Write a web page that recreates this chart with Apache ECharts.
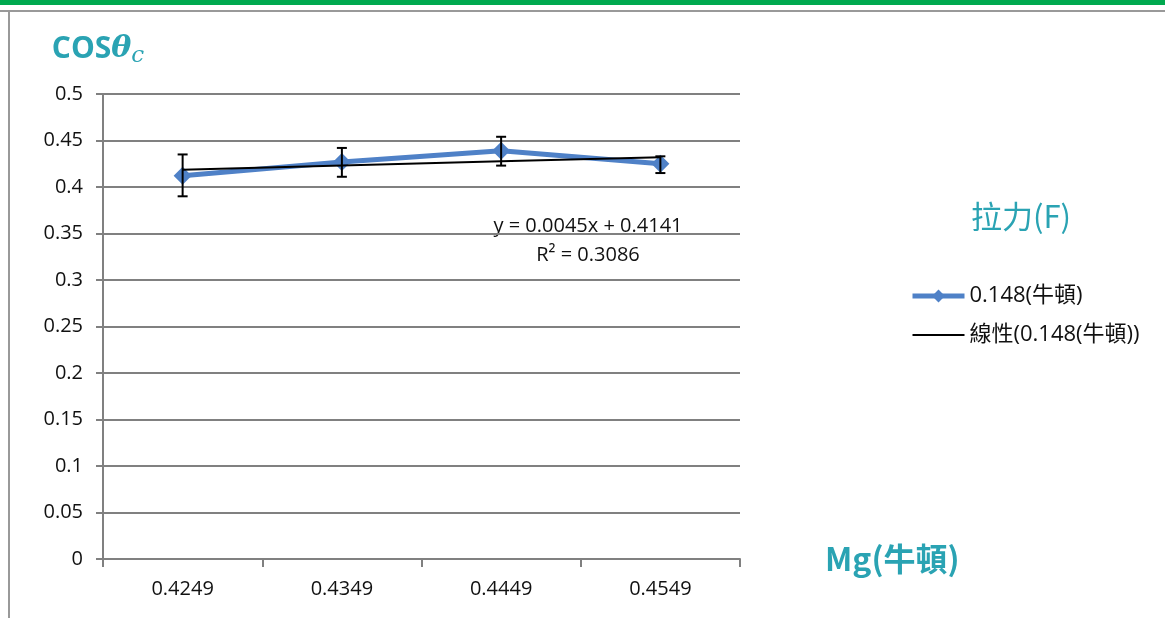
<!DOCTYPE html>
<html><head><meta charset="utf-8">
<script src="https://cdn.jsdelivr.net/npm/echarts@6/dist/echarts.min.js"></script>
<style>html,body{margin:0;padding:0;background:#fff}#c{width:1165px;height:618px}</style>
</head><body><div id="c"></div>
<script>
const categories = ['0.4249', '0.4349', '0.4449', '0.4549'];
const seriesName = '0.148(牛頓)';
const trendName = '線性(0.148(牛頓))';
const values = [0.412, 0.427, 0.439, 0.425];
const errLow = [0.390, 0.411, 0.423, 0.415];
const errHigh = [0.435, 0.442, 0.454, 0.433];
const trendValues = [0.4186, 0.4231, 0.4276, 0.4321];
const yTicks = { min: 0, max: 0.5, interval: 0.05 };

const teal = '#2aa3b3';
const blue = '#4f81c7';
const latin = '"Open Sans", "Noto Sans CJK TC", sans-serif';
const chart = echarts.init(document.getElementById('c'));
chart.setOption({
  animation: false,
  backgroundColor: '#fff',
  grid: { left: 103, right: 425, top: 94, bottom: 59 },
  title: {
    text: '拉力(F)', left: 966, top: 196,
    textStyle: { color: teal, fontSize: 31, fontWeight: 'normal', fontFamily: '"Noto Sans CJK TC", sans-serif' }
  },
  legend: {
    data: [
      { name: seriesName, lineStyle: { width: 5 } },
      { name: trendName, itemStyle: { opacity: 0 } }
    ],
    orient: 'vertical', left: 905, top: 280, itemGap: 17, itemWidth: 52, itemHeight: 16,
    textStyle: { color: '#111', fontSize: 22, fontFamily: latin }
  },
  xAxis: {
    type: 'category', data: categories, boundaryGap: true,
    name: 'Mg(牛頓)', nameLocation: 'end', nameGap: 85,
    nameTextStyle: { color: teal, fontSize: 32, fontWeight: 'bold', fontFamily: '"Noto Sans CJK TC", sans-serif', padding: [8, 0, 0, 0] },
    axisLine: { lineStyle: { color: '#808080', width: 2 } },
    axisTick: { show: true, length: 8, lineStyle: { color: '#808080', width: 2 } },
    axisLabel: { color: '#111', fontSize: 20, fontFamily: latin, margin: 20 }
  },
  yAxis: {
    type: 'value', min: yTicks.min, max: yTicks.max, interval: yTicks.interval,
    name: '{a|COS}{b|θ}{c|c}', nameLocation: 'end', nameGap: 26,
    nameTextStyle: {
      padding: [0, 0, 0, -10],
      rich: {
        a: { color: teal, fontSize: 30, fontWeight: 'bold', fontFamily: '"Open Sans", sans-serif' },
        b: { color: teal, fontSize: 30, fontStyle: 'italic', fontWeight: 'bold', fontFamily: '"DejaVu Serif", serif' },
        c: { color: teal, fontSize: 23, fontStyle: 'italic', fontFamily: '"DejaVu Serif", serif', padding: [14, 0, 0, 0] }
      }
    },
    axisLine: { show: true, lineStyle: { color: '#808080', width: 2 } },
    axisTick: { show: true, length: 7, lineStyle: { color: '#808080', width: 2 } },
    splitLine: { lineStyle: { color: '#808080', width: 2 } },
    axisLabel: { color: '#111', fontSize: 20, fontFamily: latin, margin: 20 }
  },
  graphic: [
    { type: 'rect', left: 0, top: 0, shape: { width: 1165, height: 5 }, style: { fill: '#00a94f' }, silent: true },
    { type: 'line', shape: { x1: 0, y1: 11, x2: 1165, y2: 11 }, style: { stroke: '#999', lineWidth: 2 }, silent: true },
    { type: 'line', shape: { x1: 9, y1: 11, x2: 9, y2: 618 }, style: { stroke: '#999', lineWidth: 2 }, silent: true },
    { type: 'text', x: 588, y: 226, style: { text: 'y = 0.0045x + 0.4141', fill: '#111', fontSize: 20, fontFamily: latin, align: 'center', verticalAlign: 'middle' } },
    { type: 'text', x: 588, y: 255, style: { text: 'R² = 0.3086', fill: '#111', fontSize: 20, fontFamily: latin, align: 'center', verticalAlign: 'middle' } }
  ],
  series: [
    {
      name: seriesName, type: 'line', data: values,
      symbol: 'diamond', symbolSize: 18,
      lineStyle: { color: blue, width: 5 },
      itemStyle: { color: blue }, z: 3
    },
    {
      name: trendName, type: 'line', data: trendValues,
      symbol: 'none', lineStyle: { color: '#000', width: 2 },
      itemStyle: { color: '#000' }, z: 4
    },
    {
      name: 'err', type: 'custom', z: 5,
      data: categories.map((c, i) => [i, errLow[i], errHigh[i]]),
      renderItem: function (params, api) {
        const x = api.value(0);
        const lo = api.coord([x, api.value(1)]);
        const hi = api.coord([x, api.value(2)]);
        const w = 5;
        const st = { stroke: '#000', lineWidth: 2 };
        return { type: 'group', children: [
          { type: 'line', shape: { x1: lo[0], y1: lo[1], x2: hi[0], y2: hi[1] }, style: st },
          { type: 'line', shape: { x1: lo[0] - w, y1: lo[1], x2: lo[0] + w, y2: lo[1] }, style: st },
          { type: 'line', shape: { x1: hi[0] - w, y1: hi[1], x2: hi[0] + w, y2: hi[1] }, style: st }
        ]};
      }
    }
  ]
});
</script></body></html>
